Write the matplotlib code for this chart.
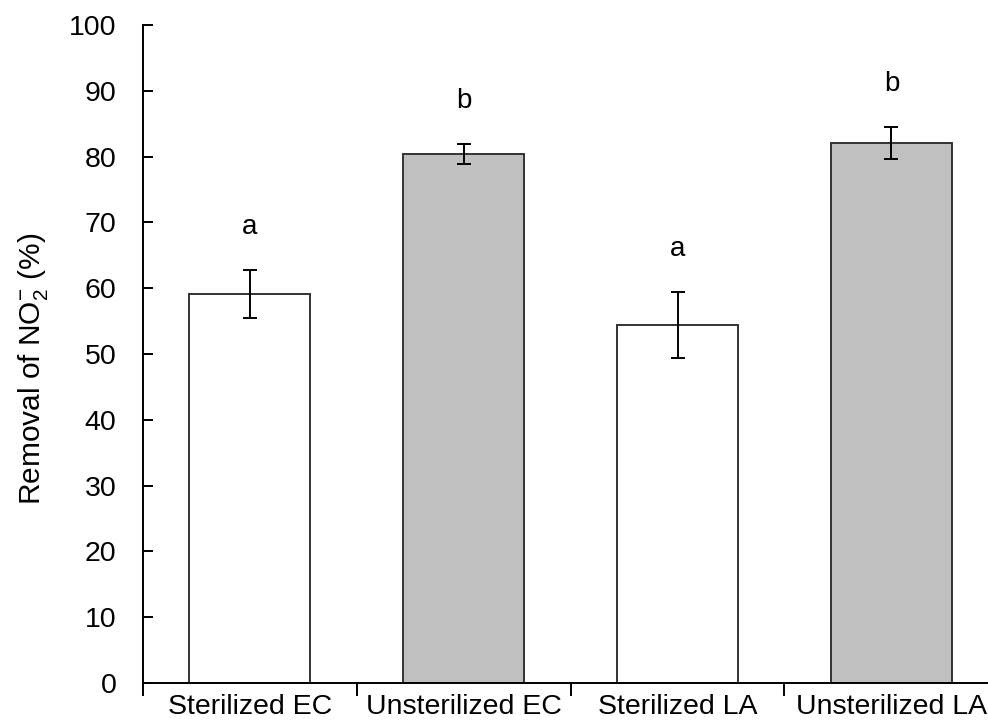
import matplotlib
matplotlib.use("Agg")
import matplotlib.pyplot as plt
import numpy as np

plt.rcParams['font.family'] = ['Liberation Sans', 'DejaVu Sans']
plt.rcParams['mathtext.fontset'] = 'custom'
plt.rcParams['mathtext.rm'] = 'Liberation Sans'
plt.rcParams['mathtext.it'] = 'Liberation Sans'

# data
categories = ['Sterilized EC', 'Unsterilized EC', 'Sterilized LA', 'Unsterilized LA']
removal = [59.1, 80.4, 54.4, 82.1]
errors = [3.65, 1.5, 5.05, 2.4]
letters = ['a', 'b', 'a', 'b']
fills = ['white', '#c0c0c0', 'white', '#c0c0c0']

fig = plt.figure(figsize=(9.88, 7.24), dpi=100)
ax = fig.add_axes([0.1444, 0.0566, 0.8553, 0.9088])

x = np.arange(len(categories))
ax.bar(x, removal, width=0.566, color=fills, edgecolor='#333333', linewidth=1.4,
       yerr=errors, capsize=5, error_kw=dict(elinewidth=1.4, capthick=1.4, ecolor='black'),
       zorder=2)

for xi, v, e, lab in zip(x, removal, errors, letters):
    ax.text(xi, v + e + 6.5, lab, ha='center', va='center', fontsize=20)

ax.set_xlim(-0.5, 3.45)
ax.set_ylim(0, 100)
ax.set_yticks(np.arange(0, 101, 10))
ax.set_xticks(x)
ax.set_xticklabels(categories)
ax.set_xticks(np.arange(-0.5, 3.5, 1), minor=True)

ax.tick_params(axis='x', which='major', length=0, pad=8, labelsize=20.5)
ax.tick_params(axis='x', which='minor', length=9, width=1.4, direction='out')
ax.tick_params(axis='y', length=7, width=1.4, direction='in', pad=19, labelsize=20.5)

ax.spines['top'].set_visible(False)
ax.spines['right'].set_visible(False)
ax.spines['left'].set_linewidth(1.4)
ax.spines['bottom'].set_linewidth(1.4)

ax.set_ylabel('Removal of NO$_2^{\\mathrm{-}}$ (%)', fontsize=21.5)
ax.yaxis.set_label_coords(-0.11, 0.477)

fig.savefig('out.png', dpi=100)
